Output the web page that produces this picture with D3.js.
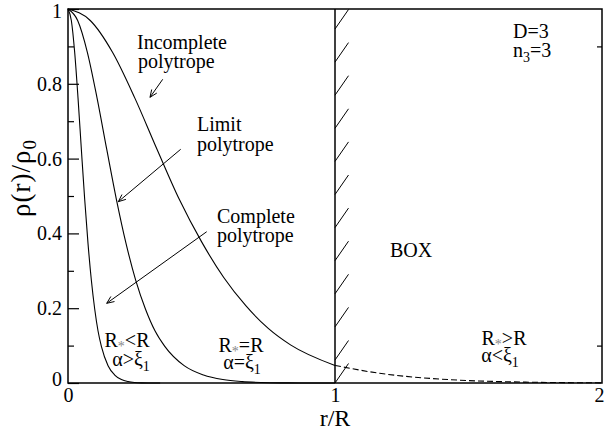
<!DOCTYPE html>
<html><head><meta charset="utf-8">
<script src="https://cdn.jsdelivr.net/npm/d3@7/dist/d3.min.js"></script>
<style>body{margin:0;background:#fff}svg{display:block}</style>
</head><body><svg id="c" width="606" height="433"></svg>
<script>
const FONT = "Liberation Serif";
// Complete polytrope (R*<R, alpha>xi1)
const completeR   = [0, 0.0125, 0.025, 0.0375, 0.05, 0.0625, 0.075, 0.0875, 0.1, 0.1125, 0.125, 0.15, 0.175, 0.2, 0.225, 0.25, 0.275, 0.3, 0.345];
const completeRho = [1, 0.9693, 0.8843, 0.7624, 0.6251, 0.4912, 0.3726, 0.2746, 0.1980, 0.1390, 0.0980, 0.0464, 0.0213, 0.0092, 0.0038, 0.0014, 0.0004, 0.0001, 0];
// Limit polytrope (R*=R, alpha=xi1)
const limitR   = [0, 0.0362, 0.0725, 0.1087, 0.1450, 0.1812, 0.2175, 0.2537, 0.2900, 0.3262, 0.3625, 0.4350, 0.5075, 0.5800, 0.6525, 0.7250, 0.7975, 0.8700, 1.0];
const limitRho = [1, 0.9693, 0.8843, 0.7624, 0.6251, 0.4912, 0.3726, 0.2746, 0.1980, 0.1390, 0.0980, 0.0464, 0.0213, 0.0092, 0.0038, 0.0014, 0.0004, 0.0001, 0];
// Incomplete polytrope (R*>R, alpha<xi1), inside the box
const incompleteR   = [0, 0.0833, 0.1667, 0.25, 0.3333, 0.4167, 0.5, 0.5833, 0.6667, 0.75, 0.8333, 1.0];
const incompleteRho = [1, 0.9693, 0.8843, 0.7624, 0.6251, 0.4912, 0.3780, 0.2820, 0.2060, 0.1460, 0.1020, 0.0470];
// continuation outside the box (dashed)
const outsideR   = [1.0, 1.1667, 1.3333, 1.5, 1.6667, 1.8333, 2.0];
const outsideRho = [0.0470, 0.0260, 0.0135, 0.0065, 0.0030, 0.0012, 0.0004];

const xTicks = [0, 1, 2];
const xTickLabels = ["0", "1", "2"];
const yTicks = [0, 0.2, 0.4, 0.6, 0.8, 1];
const yTickLabels = ["0", "0.2", "0.4", "0.6", "0.8", "1"];
const yMinorTicks = [0.1, 0.3, 0.5, 0.7, 0.9];
const rightTicks = [0.1, 0.9];

// arrows: [fromR, fromRho, toR, toRho]
const arrows = [
  [0.3547, 0.812, 0.3071, 0.7639],
  [0.4221, 0.6249, 0.1884, 0.4848],
  [0.5195, 0.4045, 0.1449, 0.2131]
];

const svg = d3.select("#c");
const L = 68, R = 602, T = 9, B = 383;
const x = d3.scaleLinear().domain([0, 2]).range([L, R]);
const y = d3.scaleLinear().domain([0, 1]).range([B, T]);

function styleTicks(g) {
  g.attr("font-family", null);
  g.select(".domain").remove();
  g.selectAll("line").attr("stroke", "#000").attr("stroke-width", 1.2);
  g.selectAll("text").style("font-family", FONT).style("font-size", "20px");
}

// axes
const yAxis = d3.axisLeft(y).tickValues(yTicks).tickFormat((d, i) => yTickLabels[i]).tickSize(-11).tickPadding(6);
const gy = svg.append("g").attr("transform", `translate(${L},0)`).call(yAxis);
styleTicks(gy);
gy.selectAll(".tick").filter(d => d === 0).select("text").attr("dy", "0.1em");
gy.selectAll(".tick").filter(d => d === 1).select("text").attr("dy", "0.4em");

const yMinor = d3.axisLeft(y).tickValues(yMinorTicks).tickFormat("").tickSize(-6);
styleTicks(svg.append("g").attr("transform", `translate(${L},0)`).call(yMinor));

const yRight = d3.axisRight(y).tickValues(rightTicks).tickFormat("").tickSize(-5);
styleTicks(svg.append("g").attr("transform", `translate(${R},0)`).call(yRight));

const xAxis = d3.axisBottom(x).tickValues(xTicks).tickFormat((d, i) => xTickLabels[i]).tickSize(0).tickPadding(5);
const gx = svg.append("g").attr("transform", `translate(0,${B})`).call(xAxis);
styleTicks(gx);
gx.selectAll(".tick").filter(d => d === 2).select("text").attr("dx", "-0.15em");

// frame
svg.append("rect").attr("x", L).attr("y", T).attr("width", R - L).attr("height", B - T)
  .attr("fill", "none").attr("stroke", "#000").attr("stroke-width", 1.5);

// box wall with hatching
svg.append("line").attr("x1", x(1)).attr("x2", x(1)).attr("y1", T).attr("y2", B)
  .attr("stroke", "#000").attr("stroke-width", 1.5);
const hatchStarts = [B];
for (let i = 0; i < 11; i++) hatchStarts.push(360 - i * 33.1);
hatchStarts.forEach(yb => {
  svg.append("line").attr("x1", x(1)).attr("y1", yb).attr("x2", x(1) + 13.5).attr("y2", yb - 19.5)
    .attr("stroke", "#000").attr("stroke-width", 1);
});

// curves
const line = d3.line().x(d => x(d[0])).y(d => y(d[1])).curve(d3.curveMonotoneX);
function draw(rs, vs, dash) {
  const p = svg.append("path").datum(rs.map((r, i) => [r, vs[i]])).attr("d", line)
    .attr("fill", "none").attr("stroke", "#000").attr("stroke-width", 1.1);
  if (dash) p.attr("stroke-dasharray", "6,3");
}
draw(completeR, completeRho);
draw(limitR, limitRho);
draw(incompleteR, incompleteRho);
draw(outsideR, outsideRho, true);

// arrows
arrows.forEach(a => {
  const x1 = x(a[0]), y1 = y(a[1]), x2 = x(a[2]), y2 = y(a[3]);
  svg.append("line").attr("x1", x1).attr("y1", y1).attr("x2", x2).attr("y2", y2)
    .attr("stroke", "#000").attr("stroke-width", 1);
  const ang = Math.atan2(y2 - y1, x2 - x1), len = 8, spread = 0.4;
  [ang + Math.PI - spread, ang + Math.PI + spread].forEach(t => {
    svg.append("line").attr("x1", x2).attr("y1", y2)
      .attr("x2", x2 + len * Math.cos(t)).attr("y2", y2 + len * Math.sin(t))
      .attr("stroke", "#000").attr("stroke-width", 1);
  });
});

// text helpers
function txt(px, py, size, anchor) {
  return svg.append("text").attr("x", px).attr("y", py)
    .style("font-family", FONT).style("font-size", size + "px")
    .attr("text-anchor", anchor || "start");
}
txt(137, 49, 20).text("Incomplete");
txt(138, 68, 20).text("polytrope");
txt(197, 131, 20).text("Limit");
txt(197, 151, 20).text("polytrope");
txt(217, 223, 20).text("Complete");
txt(217, 242, 20).text("polytrope");
txt(390, 257, 20).text("BOX");
txt(513, 38, 20).text("D=3");
let t = txt(513, 57, 20); t.append("tspan").text("n");
t.append("tspan").attr("dy", 5).style("font-size", "14px").text("3");
t.append("tspan").attr("dy", -5).text("=3");

function rLabel(px, py, op) {
  const t = txt(px, py, 20, "middle");
  t.append("tspan").text("R");
  t.append("tspan").attr("dy", 4).style("font-size", "14px").attr("fill", "#888").text("*");
  t.append("tspan").attr("dy", -4).text(op + "R");
}
function aLabel(px, py, op) {
  const t = txt(px, py, 20, "middle");
  t.append("tspan").text("α" + op + "ξ");
  t.append("tspan").attr("dy", 5).style("font-size", "14px").text("1");
}
rLabel(127, 347, "<"); aLabel(131, 366, ">");
rLabel(241, 352, "="); aLabel(242, 369, "=");
rLabel(504, 345, ">"); aLabel(500, 362, "<");

// axis titles
txt(x(1), 426, 24, "middle").text("r/R");
const yl = txt(0, 0, 27, "middle").attr("transform", `translate(30,178) rotate(-90)`)
  .style("letter-spacing", "1px");
yl.append("tspan").text("ρ(r)/ρ");
yl.append("tspan").attr("dy", 6).style("font-size", "19px").text("0");
</script></body></html>
